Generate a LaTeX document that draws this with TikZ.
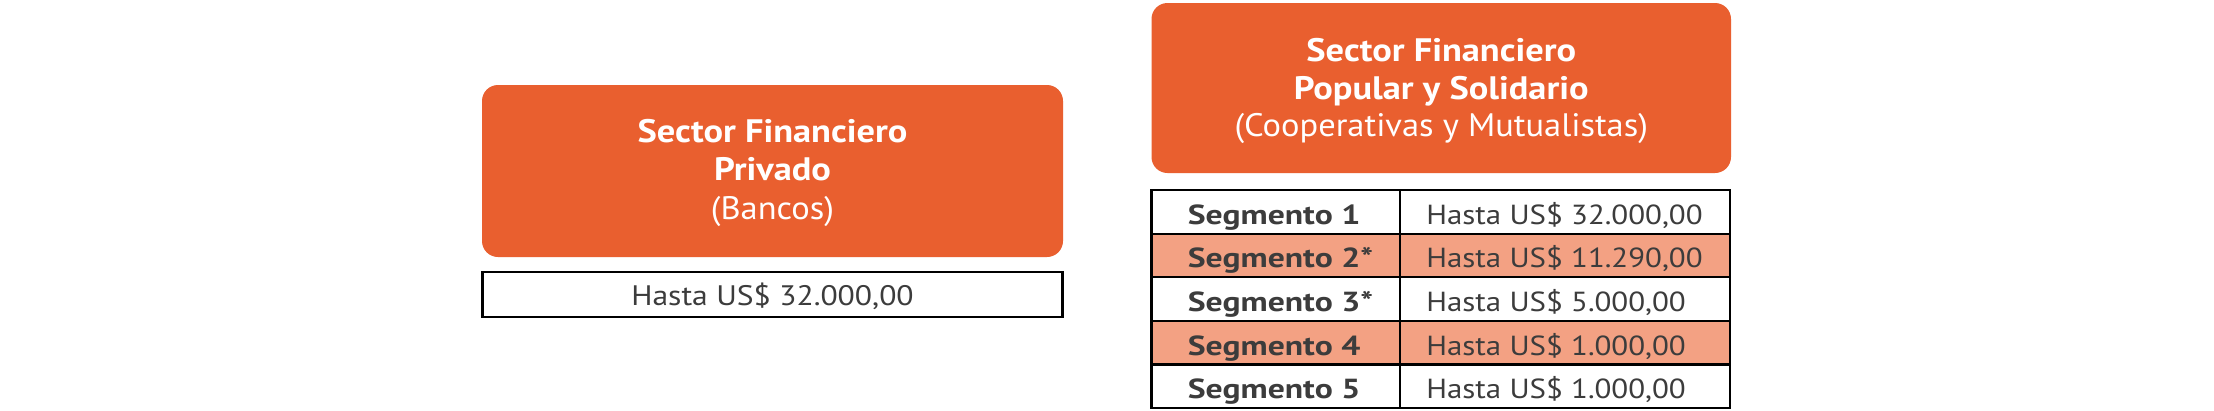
\documentclass[tikz,border=0pt]{standalone}
\usepackage{fontspec}
\setmainfont{PT Sans}
\newfontfamily\hbfont[FakeStretch=1.12,UprightFont=*-Bold]{PT Sans}
\newfontfamily\hrfont[FakeStretch=1.06]{PT Sans}
\newfontfamily\sgfont[FakeStretch=1.22,UprightFont=*-Bold]{PT Sans}
\newfontfamily\vlfont[FakeStretch=1.12]{PT Sans}
\newcommand\segtxt[1]{\makebox[248.5pt][l]{\hspace{36.3pt}#1}}
\newcommand\valtxt[1]{\makebox[330pt][l]{\hspace{26.3pt}#1}}
\definecolor{orangebox}{HTML}{E95F2F}
\definecolor{salmon}{HTML}{F3A183}
\definecolor{txtgray}{HTML}{3C3C3C}
\begin{document}
\begin{tikzpicture}[x=1pt,y=-1pt,
  headbox/.style={fill=orangebox,draw=none,rounded corners=16pt,inner sep=0pt,anchor=center},
  hbold/.style={text=white,inner sep=0pt,anchor=base,font=\hbfont\fontsize{32.5}{38}\selectfont},
  hreg/.style={text=white,inner sep=0pt,anchor=base,font=\hrfont\fontsize{32.5}{38}\selectfont},
  cellbox/.style={draw=black,line width=2.2pt,inner sep=0pt,anchor=center,text=txtgray,text height=25pt,text depth=0pt},
  segcell/.style={cellbox,minimum width=248.5pt,minimum height=43.6pt,font=\sgfont\fontsize{27.6}{30}\selectfont},
  valcell/.style={cellbox,minimum width=330pt,minimum height=43.6pt,font=\vlfont\fontsize{27.6}{30}\selectfont},
  hl/.style={fill=salmon}
]
\useasboundingbox (0,0) rectangle (2214,410);
\fill[white] (0,0) rectangle (2214,410);
% left block
\node[headbox,minimum width=581pt,minimum height=172pt] (lhead) at (772.5,171) {};
\node[hbold] (l1) at (772.5,142.7) {Sector Financiero};
\node[hbold] (l2) at (772.5,180.7) {Privado};
\node[hreg] (l3) at (772.5,219.5) {(Bancos)};
\node[cellbox,minimum width=580pt,minimum height=45pt,text height=21pt,font=\vlfont\fontsize{28.2}{30}\selectfont] (lval) at (772.5,294.5) {Hasta US\$ 32.000,00};
% right block
\node[headbox,minimum width=579.5pt,minimum height=170pt] (rhead) at (1441.25,88) {};
\node[hbold] (r1) at (1441.25,61.7) {Sector Financiero};
\node[hbold] (r2) at (1441.25,99.3) {Popular y Solidario};
\node[hreg] (r3) at (1441.25,136.7) {(Cooperativas y Mutualistas)};
% table
\node[segcell] (s1) at (1275.75,211.8) {\segtxt{Segmento 1}};
\node[valcell] (v1) at (1565,211.8) {\valtxt{Hasta US\$ 32.000,00}};
\node[segcell,hl] (s2) at (1275.75,255.4) {\segtxt{Segmento 2*}};
\node[valcell,hl] (v2) at (1565,255.4) {\valtxt{Hasta US\$ 11.290,00}};
\node[segcell] (s3) at (1275.75,299.0) {\segtxt{Segmento 3*}};
\node[valcell] (v3) at (1565,299.0) {\valtxt{Hasta US\$ 5.000,00}};
\node[segcell,hl] (s4) at (1275.75,342.6) {\segtxt{Segmento 4}};
\node[valcell,hl] (v4) at (1565,342.6) {\valtxt{Hasta US\$ 1.000,00}};
\node[segcell] (s5) at (1275.75,386.2) {\segtxt{Segmento 5}};
\node[valcell] (v5) at (1565,386.2) {\valtxt{Hasta US\$ 1.000,00}};
\end{tikzpicture}
\end{document}
